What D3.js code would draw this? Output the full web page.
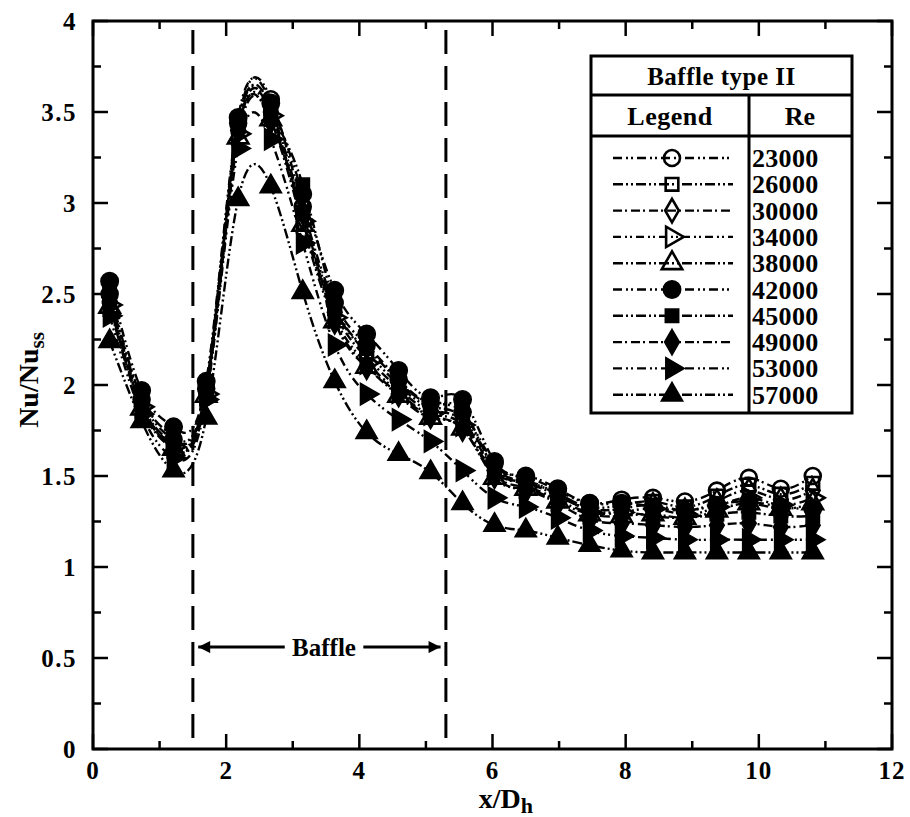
<!DOCTYPE html>
<html>
<head>
<meta charset="utf-8">
<script src="https://cdn.jsdelivr.net/npm/d3@7"></script>
<style>
  body { margin: 0; background: #fff; }
  svg text { font-family: "Liberation Serif", "Times New Roman", serif; font-weight: bold; fill: #000; }
</style>
</head>
<body>
<div id="main"><svg width="910" height="817"></svg></div>
<script>
// x/Dh stations of the measurement points
var xPos = [0.25, 0.73, 1.21, 1.70, 2.18, 2.67, 3.15, 3.63, 4.11, 4.59, 5.07, 5.55,
            6.03, 6.50, 6.98, 7.46, 7.94, 8.41, 8.89, 9.37, 9.85, 10.33, 10.81];

// Nu/Nuss for every Reynolds number
var re23000 = [2.50, 1.92, 1.70, 1.98, 3.44, 3.57, 2.98, 2.45, 2.22, 2.03, 1.90, 1.85, 1.57, 1.49, 1.42, 1.35, 1.37, 1.38, 1.36, 1.42, 1.49, 1.43, 1.50];
var re26000 = [2.48, 1.90, 1.68, 1.97, 3.42, 3.52, 2.95, 2.42, 2.18, 2.00, 1.88, 1.82, 1.55, 1.47, 1.40, 1.33, 1.34, 1.36, 1.33, 1.39, 1.45, 1.40, 1.46];
var re30000 = [2.46, 1.89, 1.67, 1.96, 3.40, 3.50, 2.92, 2.40, 2.15, 1.98, 1.86, 1.80, 1.53, 1.46, 1.39, 1.32, 1.32, 1.34, 1.31, 1.36, 1.42, 1.37, 1.42];
var re34000 = [2.44, 1.88, 1.66, 1.95, 3.38, 3.48, 2.90, 2.37, 2.12, 1.96, 1.84, 1.78, 1.51, 1.44, 1.37, 1.30, 1.30, 1.32, 1.29, 1.33, 1.38, 1.34, 1.38];
var re38000 = [2.43, 1.87, 1.65, 1.94, 3.36, 3.46, 2.88, 2.35, 2.10, 1.94, 1.82, 1.76, 1.49, 1.43, 1.36, 1.29, 1.28, 1.29, 1.27, 1.31, 1.35, 1.32, 1.35];
var re42000 = [2.57, 1.97, 1.77, 2.02, 3.47, 3.55, 3.05, 2.52, 2.28, 2.08, 1.93, 1.92, 1.58, 1.50, 1.43, 1.35, 1.35, 1.33, 1.31, 1.34, 1.36, 1.33, 1.32];
var re45000 = [2.52, 1.93, 1.72, 1.99, 3.45, 3.50, 3.10, 2.45, 2.20, 2.02, 1.90, 1.86, 1.54, 1.47, 1.40, 1.31, 1.30, 1.28, 1.27, 1.29, 1.30, 1.28, 1.28];
var re49000 = [2.45, 1.88, 1.66, 1.95, 3.40, 3.45, 2.95, 2.35, 2.10, 1.95, 1.83, 1.76, 1.50, 1.42, 1.35, 1.26, 1.24, 1.23, 1.22, 1.23, 1.24, 1.22, 1.23];
var re53000 = [2.38, 1.84, 1.60, 1.92, 3.30, 3.35, 2.78, 2.22, 1.95, 1.81, 1.69, 1.53, 1.38, 1.33, 1.27, 1.20, 1.17, 1.16, 1.15, 1.15, 1.15, 1.15, 1.15];
var re57000 = [2.24, 1.80, 1.53, 1.82, 3.02, 3.09, 2.51, 2.02, 1.74, 1.62, 1.52, 1.35, 1.23, 1.20, 1.16, 1.12, 1.09, 1.08, 1.08, 1.08, 1.08, 1.08, 1.08];

var reLabels = ["23000", "26000", "30000", "34000", "38000", "42000", "45000", "49000", "53000", "57000"];
var reValues = [re23000, re26000, re30000, re34000, re38000, re42000, re45000, re49000, re53000, re57000];

// Baffle position (x/Dh)
var baffleStart = 1.5;
var baffleEnd = 5.3;

// Tick values
var xMajor = [0, 2, 4, 6, 8, 10, 12];
var xMinor = [1, 3, 5, 7, 9, 11];
var yMajor = [0, 0.5, 1, 1.5, 2, 2.5, 3, 3.5, 4];
var yMinor = [0.25, 0.75, 1.25, 1.75, 2.25, 2.75, 3.25, 3.75];

var svg = d3.select("#main").select("svg");
var g = svg.append("g");

var margin = {top: 21, left: 93, right: 18, bottom: 68};
var width = +svg.attr("width") - margin.left - margin.right;
var height = +svg.attr("height") - margin.top - margin.bottom;

var xScale = d3.scaleLinear().domain([0, 12]).range([margin.left, margin.left + width]);
var yScale = d3.scaleLinear().domain([0, 4]).range([margin.top + height, margin.top]);

// marker style per series
var symbols = [
  {type: d3.symbolCircle, size: 200, filled: false, rot: 0},
  {type: d3.symbolSquare, size: 160, filled: false, rot: 0},
  {type: d3.symbolDiamond, size: 160, filled: false, rot: 0},
  {type: d3.symbolTriangle, size: 180, filled: false, rot: 90},
  {type: d3.symbolTriangle, size: 180, filled: false, rot: 0},
  {type: d3.symbolCircle, size: 240, filled: true, rot: 0},
  {type: d3.symbolSquare, size: 180, filled: true, rot: 0},
  {type: d3.symbolDiamond, size: 190, filled: true, rot: 0},
  {type: d3.symbolTriangle, size: 200, filled: true, rot: 90},
  {type: d3.symbolTriangle, size: 200, filled: true, rot: 0}
];
var dashes = ["9,4,2,3,2,4", "10,3,2,3,2,3", "9,3,2,4", "8,4,2,3,2,4", "10,3,2,3,2,3",
              "9,4,2,3,2,4", "10,3,2,3,2,3", "9,3,2,4", "9,4,2,3,2,4", "10,3,2,3,2,3"];

function drawMarker(sel, i, x, y) {
  var s = symbols[i];
  sel.append("path")
    .attr("d", d3.symbol().type(s.type).size(s.size)())
    .attr("transform", "translate(" + x + "," + y + ") rotate(" + s.rot + ")")
    .attr("fill", s.filled ? "#000" : "none")
    .attr("stroke", "#000")
    .attr("stroke-width", s.filled ? 1.5 : 2.6);
}

// Baffle dashed lines
[baffleStart, baffleEnd].forEach(function(b) {
  g.append("line")
    .attr("x1", xScale(b)).attr("x2", xScale(b))
    .attr("y1", yScale(3.95)).attr("y2", yScale(0))
    .attr("stroke", "#000").attr("stroke-width", 3)
    .attr("stroke-dasharray", "24,12");
});

// Baffle arrow annotation
var defs = svg.append("defs");
defs.append("marker").attr("id", "arrow")
  .attr("viewBox", "0 0 10 10").attr("refX", 10).attr("refY", 5)
  .attr("markerWidth", 5).attr("markerHeight", 4).attr("orient", "auto-start-reverse")
  .attr("markerUnits", "strokeWidth")
  .append("path").attr("d", "M0,0 L10,5 L0,10 Z").attr("fill", "#000");

g.append("line")
  .attr("x1", xScale(2.88)).attr("x2", xScale(1.58))
  .attr("y1", yScale(0.56)).attr("y2", yScale(0.56))
  .attr("stroke", "#000").attr("stroke-width", 3).attr("marker-end", "url(#arrow)");
g.append("line")
  .attr("x1", xScale(4.06)).attr("x2", xScale(5.22))
  .attr("y1", yScale(0.56)).attr("y2", yScale(0.56))
  .attr("stroke", "#000").attr("stroke-width", 3).attr("marker-end", "url(#arrow)");
g.append("text")
  .attr("x", xScale(3.47)).attr("y", yScale(0.56) + 9)
  .attr("text-anchor", "middle").attr("font-size", 25)
  .text("Baffle");

// Curves
var line = d3.line()
  .x(function(d) { return xScale(d[0]); })
  .y(function(d) { return yScale(d[1]); })
  .curve(d3.curveNatural);

reValues.forEach(function(vals, i) {
  var pts = xPos.map(function(x, k) { return [x, vals[k]]; });
  g.append("path")
    .datum(pts)
    .attr("d", line)
    .attr("fill", "none")
    .attr("stroke", "#000")
    .attr("stroke-width", 2.4)
    .attr("stroke-dasharray", dashes[i]);
});
reValues.forEach(function(vals, i) {
  var mg = g.append("g");
  xPos.forEach(function(x, k) {
    drawMarker(mg, i, xScale(x), yScale(vals[k]));
  });
});

// Axes frame with inward ticks on all four sides
g.append("rect")
  .attr("x", xScale(0)).attr("y", yScale(4))
  .attr("width", xScale(12) - xScale(0)).attr("height", yScale(0) - yScale(4))
  .attr("fill", "none").attr("stroke", "#000").attr("stroke-width", 3);

var axisG = g.append("g");
function ticksX(vals, len) {
  vals.forEach(function(v) {
    axisG.append("line").attr("x1", xScale(v)).attr("x2", xScale(v))
      .attr("y1", yScale(0)).attr("y2", yScale(0) - len).attr("stroke", "#000").attr("stroke-width", 2.5);
    axisG.append("line").attr("x1", xScale(v)).attr("x2", xScale(v))
      .attr("y1", yScale(4)).attr("y2", yScale(4) + len).attr("stroke", "#000").attr("stroke-width", 2.5);
  });
}
function ticksY(vals, len) {
  vals.forEach(function(v) {
    axisG.append("line").attr("x1", xScale(0)).attr("x2", xScale(0) + len)
      .attr("y1", yScale(v)).attr("y2", yScale(v)).attr("stroke", "#000").attr("stroke-width", 2.5);
    axisG.append("line").attr("x1", xScale(12)).attr("x2", xScale(12) - len)
      .attr("y1", yScale(v)).attr("y2", yScale(v)).attr("stroke", "#000").attr("stroke-width", 2.5);
  });
}
ticksX(xMajor, 15); ticksX(xMinor, 8);
ticksY(yMajor, 15); ticksY(yMinor, 8);

xMajor.forEach(function(v) {
  axisG.append("text").attr("x", xScale(v)).attr("y", yScale(0) + 30)
    .attr("text-anchor", "middle").attr("font-size", 25).attr("letter-spacing", 1).text(v);
});
yMajor.forEach(function(v) {
  axisG.append("text").attr("x", xScale(0) - 16).attr("y", yScale(v) + 9)
    .attr("text-anchor", "end").attr("font-size", 25).attr("letter-spacing", 1.5).text(v);
});

// Axis titles
var xt = g.append("text").attr("x", xScale(6.2)).attr("y", 808)
  .attr("text-anchor", "middle").attr("font-size", 28);
xt.append("tspan").text("x/D");
xt.append("tspan").attr("dy", 5).attr("font-size", 22).text("h");

var yt = g.append("text").attr("transform", "translate(38,380) rotate(-90)")
  .attr("text-anchor", "middle").attr("font-size", 28);
yt.append("tspan").text("Nu/Nu");
yt.append("tspan").attr("dy", 6).attr("font-size", 21).text("ss");

// Legend table
var leg = g.append("g");
var lx0 = 591, lx1 = 852, ldiv = 749;
var ly0 = 56, ly1 = 95, ly2 = 136, ly3 = 413;
leg.append("rect").attr("x", lx0).attr("y", ly0).attr("width", lx1 - lx0).attr("height", ly3 - ly0)
  .attr("fill", "#fff").attr("stroke", "#000").attr("stroke-width", 3);
leg.append("line").attr("x1", lx0).attr("x2", lx1).attr("y1", ly1).attr("y2", ly1)
  .attr("stroke", "#000").attr("stroke-width", 3);
leg.append("line").attr("x1", lx0).attr("x2", lx1).attr("y1", ly2).attr("y2", ly2)
  .attr("stroke", "#000").attr("stroke-width", 3);
leg.append("line").attr("x1", ldiv).attr("x2", ldiv).attr("y1", ly1).attr("y2", ly3)
  .attr("stroke", "#000").attr("stroke-width", 3);
leg.append("text").attr("x", (lx0 + lx1) / 2).attr("y", 85)
  .attr("text-anchor", "middle").attr("font-size", 25).attr("letter-spacing", 0.5).text("Baffle type II");
leg.append("text").attr("x", 670).attr("y", 125)
  .attr("text-anchor", "middle").attr("font-size", 26).attr("letter-spacing", 0.5).text("Legend");
leg.append("text").attr("x", 800).attr("y", 125)
  .attr("text-anchor", "middle").attr("font-size", 26).text("Re");

reLabels.forEach(function(lab, i) {
  var y = 158 + i * 26.3;
  leg.append("line").attr("x1", 613).attr("x2", 733).attr("y1", y).attr("y2", y)
    .attr("stroke", "#000").attr("stroke-width", 2.4).attr("stroke-dasharray", dashes[i]);
  drawMarker(leg, i, 672, y);
  leg.append("text").attr("x", 752).attr("y", y + 9)
    .attr("font-size", 26).attr("letter-spacing", 0.3).text(lab);
});
</script>
</body>
</html>
